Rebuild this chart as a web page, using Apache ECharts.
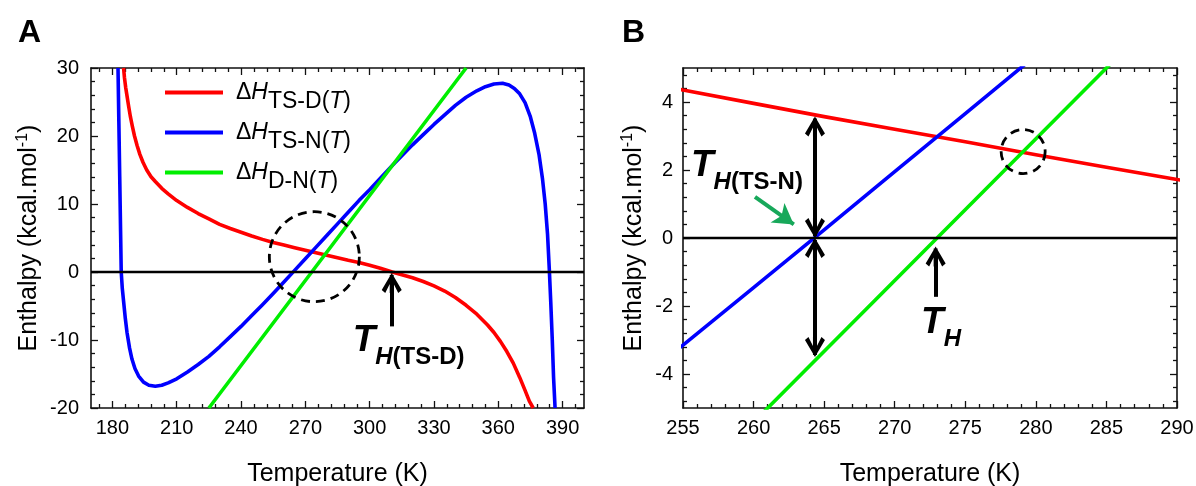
<!DOCTYPE html>
<html lang="en">
<head>
<meta charset="UTF-8"/>
<title>Enthalpy vs temperature</title>
<script src="https://cdn.jsdelivr.net/npm/echarts@6/dist/echarts.min.js"></script>
<style>
  html, body { margin: 0; padding: 0; background: #fff; }
  #main { width: 1196px; height: 486px; }
</style>
</head>
<body>
<div id="main"></div>
<script type="text/javascript">
// curves, [T (K), enthalpy (kcal/mol)]
var dH_TS_D = [[185.2,30],[185.6,28.6],[186.2,27.1],[186.8,25.9],[187.6,24.3],[188.4,22.8],[189.3,21.4],
  [190.3,20.0],[191.5,18.6],[192.8,17.3],[194.3,16.1],[196,15.0],[198,14.0],[200,13.3],[203,12.3],[206,11.5],
  [210,10.5],[215,9.5],[220,8.6],[225,7.8],[230,7.0],[235,6.4],[240,5.85],[245,5.3],[250,4.8],[255,4.35],
  [260,3.96],[265,3.57],[270,3.2],[275,2.83],[280,2.45],[285,2.08],[290,1.72],[295,1.4],[300,1.0],[305,0.55],
  [310.5,0],[315,-0.4],[320,-0.85],[325,-1.4],[330,-2.05],[335,-2.8],[340,-3.75],[345,-4.9],[350,-6.2],
  [355,-7.8],[358,-8.9],[361,-10.2],[364,-11.7],[367,-13.4],[370,-15.5],[372.5,-17.4],[374.5,-19],[376.3,-20]];
var dH_TS_N = [[182.6,30],[183.0,22],[183.4,14],[183.8,6],[184.1,0],[184.6,-2.4],[185.2,-4.3],[186,-6.8],
  [186.8,-8.9],[188,-11.2],[189.1,-12.8],[190.5,-14.2],[192.2,-15.3],[194.5,-16.2],[197,-16.65],[200,-16.8],
  [203,-16.65],[206,-16.3],[210,-15.7],[215,-14.7],[220,-13.6],[225,-12.4],[230,-11.0],[235,-9.5],[240,-8.0],
  [245,-6.4],[250,-4.8],[255,-3.15],[260,-1.46],[265,0.24],[270,1.95],[275,3.66],[280,5.37],[285,7.08],
  [290,8.8],[295,10.5],[300,12.1],[305,13.8],[311,15.8],[315,17.1],[320,18.7],[325,20.2],[330,21.7],
  [335,23.1],[340,24.5],[345,25.7],[350,26.65],[354,27.25],[358,27.65],[362,27.75],[365,27.5],[367.5,27.0],
  [370,26.2],[372.5,24.9],[375,22.8],[377,20.4],[379,17.3],[380.6,13.8],[381.9,10.0],[383,5.5],[383.8,0.5],
  [384.5,-4.5],[385.2,-10],[385.8,-15.5],[386.5,-20]];
var dH_D_N = [[225,-20],[273,0],[345,30]];

var seriesNames = ['TS-D', 'TS-N', 'D-N'];
var seriesColors = ['#ff0000', '#0000ff', '#00ee00'];

// tick positions
var xLabelsA = [180, 210, 240, 270, 300, 330, 360, 390];
var xMinorA = [174,186,192,198,204,216,222,228,234,246,252,258,264,276,282,288,294,306,312,318,324,
  336,342,348,354,366,372,378,384,396];
var yLabelsA = [-20, -10, 0, 10, 20, 30];
var yMinorA = [-18,-16,-14,-12,-8,-6,-4,-2,2,4,6,8,12,14,16,18,22,24,26,28];
var xLabelsB = [255, 260, 265, 270, 275, 280, 285, 290];
var xMinorB = [256,257,258,259,261,262,263,264,266,267,268,269,271,272,273,274,276,277,278,279,
  281,282,283,284,286,287,288,289];
var yLabelsB = [-4, -2, 0, 2, 4];
var yMinorB = [-4.8,-4.4,-3.6,-3.2,-2.8,-2.4,-1.6,-1.2,-0.8,-0.4,0.4,0.8,1.2,1.6,2.4,2.8,3.2,3.6,4.4,4.8];

// annotations (data coordinates)
var circleA = [274.2, 2.25];
var circleB = [279.1, 2.54];
var arrowA = [[310.3, -8.0], [310.3, -1.62]];
var arrowUpB = [[264.35, 0.294], [264.35, 3.276]];
var arrowDownB = [[264.35, -0.294], [264.35, -3.206]];
var arrowTH = [[272.9, -1.73], [272.9, -0.544]];
var arrowGreen = [[260.1, 1.21], [262.85, 0.4]];
var labelTSD = [292.3, -10.2];
var labelTSN = [255.6, 2.1];
var labelTH = [271.9, -2.5];

var FONT = 'Liberation Sans, Arial, sans-serif';
var chevron = 'path://M10,0 L20,17 L16.5,20 L10,7 L3.5,20 L0,17 Z M8,2 L12,2 L12,20 L8,20 Z';

function frame(g, dim, min, max, labels, minor, name, nameGap, labelMargin) {
    var line = {show: true, onZero: false, lineStyle: {color: '#111', width: 1.6}};
    var tick = function (vals, len) {
        return {show: true, inside: true, length: len, customValues: vals, lineStyle: {color: '#111', width: 1.3}};
    };
    var pos = dim === 'x' ? ['bottom', 'top'] : ['left', 'right'];
    var base = {gridIndex: g, type: 'value', min: min, max: max, splitLine: {show: false}};
    var nameStyle = {fontFamily: FONT, fontSize: 25, color: '#000',
        rich: {sup: {fontFamily: FONT, fontSize: 16, color: '#000', padding: [0, 0, 12, 0]}}};
    return [
        Object.assign({}, base, {position: pos[0], axisLine: line, axisTick: tick(labels, 7),
            axisLabel: {show: true, customValues: labels, margin: labelMargin, fontFamily: FONT, fontSize: 20, color: '#000'},
            name: name, nameLocation: 'middle', nameGap: nameGap, nameTextStyle: nameStyle}),
        Object.assign({}, base, {position: pos[1], axisLine: line, axisTick: tick(labels, 7), axisLabel: {show: false}}),
        Object.assign({}, base, {position: pos[0], axisLine: {show: false, onZero: false}, axisTick: tick(minor, 4), axisLabel: {show: false}}),
        Object.assign({}, base, {position: pos[1], axisLine: {show: false, onZero: false}, axisTick: tick(minor, 4), axisLabel: {show: false}})
    ];
}

var yName = 'Enthalpy (kcal.mol{sup|-1})';
var xAxes = frame(0, 'x', 170, 400, xLabelsA, xMinorA, 'Temperature (K)', 54, 10)
    .concat(frame(1, 'x', 255, 290, xLabelsB, xMinorB, 'Temperature (K)', 54, 10));
var yAxes = frame(0, 'y', -20, 30, yLabelsA, yMinorA, yName, 48, 12)
    .concat(frame(1, 'y', -5, 5, yLabelsB, yMinorB, yName, 35, 10));

function curves(axisIndex) {
    return [dH_TS_D, dH_TS_N, dH_D_N].map(function (d, i) {
        return {
            name: seriesNames[i], type: 'line', xAxisIndex: axisIndex, yAxisIndex: axisIndex,
            data: d, showSymbol: false, symbol: 'none', clip: true, z: 3,
            lineStyle: {color: seriesColors[i], width: 3.6, join: 'round'}, itemStyle: {color: seriesColors[i]}
        };
    });
}

function zeroLine(axisIndex) {
    return {
        type: 'line', xAxisIndex: axisIndex, yAxisIndex: axisIndex, data: [], z: 2, silent: true,
        markLine: {silent: true, symbol: 'none', label: {show: false}, animation: false,
            lineStyle: {color: '#000', width: 2.4, type: 'solid'}, data: [{yAxis: 0}]}
    };
}

function arrowItem(seg, s0, s1) {
    return [{coord: seg[0], symbol: s0}, {coord: seg[1], symbol: s1}];
}

function arrows(axisIndex, items, color, size) {
    return {
        type: 'line', xAxisIndex: axisIndex, yAxisIndex: axisIndex, data: [], z: 4, silent: true,
        markLine: {silent: true, symbolSize: size, label: {show: false}, animation: false,
            lineStyle: {color: color, width: 4, type: 'solid'}, data: items}
    };
}

function circle(axisIndex, c, size) {
    return {
        type: 'scatter', xAxisIndex: axisIndex, yAxisIndex: axisIndex, data: [c], symbol: 'circle',
        symbolSize: size, z: 4, silent: true,
        itemStyle: {color: 'rgba(0,0,0,0)', opacity: 1, borderColor: '#000', borderWidth: 2.8, borderType: [9, 6]}
    };
}

var thRich = {
    T: {fontFamily: FONT, fontSize: 37, fontWeight: 'bold', fontStyle: 'italic', color: '#000'},
    h: {fontFamily: FONT, fontSize: 24, fontWeight: 'bold', fontStyle: 'italic', color: '#000', padding: [33, 0, 0, 0]},
    p: {fontFamily: FONT, fontSize: 24, fontWeight: 'bold', color: '#000', padding: [33, 0, 0, 0]}
};

function textMark(axisIndex, pt, text) {
    return {
        type: 'scatter', xAxisIndex: axisIndex, yAxisIndex: axisIndex, data: [pt], symbolSize: 1, z: 5,
        silent: true, itemStyle: {color: 'rgba(0,0,0,0)', opacity: 1},
        label: {show: true, position: [0, 0], align: 'left', verticalAlign: 'middle', color: '#000',
            opacity: 1, formatter: text, rich: thRich}
    };
}

var series = curves(0).concat(curves(4)).concat([
    zeroLine(0), zeroLine(4),
    circle(0, circleA, 90), circle(4, circleB, 44),
    arrows(0, [arrowItem(arrowA, 'none', chevron)], '#000', [20, 20]),
    arrows(4, [arrowItem(arrowUpB, chevron, chevron), arrowItem(arrowDownB, chevron, chevron),
        arrowItem(arrowTH, 'none', chevron)], '#000', [20, 20]),
    arrows(4, [arrowItem(arrowGreen, 'none', 'arrow')], '#17a85a', [18, 20]),
    textMark(0, labelTSD, '{T|T}{h|H}{p|(TS-D)}'),
    textMark(4, labelTSN, '{T|T}{h|H}{p|(TS-N)}'),
    textMark(4, labelTH, '{T|T}{h|H}')
]);

var myChart = echarts.init(document.getElementById('main'));
var option = {
    animation: false,
    backgroundColor: '#fff',
    grid: [
        {left: 91, top: 68, width: 493, height: 340, outerBoundsMode: 'none', containLabel: false},
        {left: 683, top: 68, width: 494, height: 340, outerBoundsMode: 'none', containLabel: false}
    ],
    xAxis: xAxes,
    yAxis: yAxes,
    legend: {
        data: seriesNames, orient: 'vertical', left: 160, top: 76, icon: 'rect',
        itemWidth: 58, itemHeight: 4, itemGap: 8, selectedMode: false,
        formatter: function (name) {
            return '{d|Δ}{h|H}{s|' + name + '(}{t|T}{s|)}';
        },
        textStyle: {
            fontFamily: FONT, fontSize: 23, color: '#000',
            rich: {
                d: {fontFamily: FONT, fontSize: 23, color: '#000', padding: [0, 0, 0, 8]},
                h: {fontFamily: FONT, fontSize: 23, fontStyle: 'italic', color: '#000'},
                s: {fontFamily: FONT, fontSize: 23, color: '#000', padding: [18, 0, 0, 0]},
                t: {fontFamily: FONT, fontSize: 23, fontStyle: 'italic', color: '#000', padding: [18, 0, 0, 0]}
            }
        }
    },
    graphic: [
        {type: 'text', left: 18, top: 17, style: {text: 'A', font: 'bold 32px ' + FONT, fill: '#000'}},
        {type: 'text', left: 622, top: 17, style: {text: 'B', font: 'bold 32px ' + FONT, fill: '#000'}}
    ],
    series: series
};
myChart.setOption(option);
</script>
</body>
</html>
